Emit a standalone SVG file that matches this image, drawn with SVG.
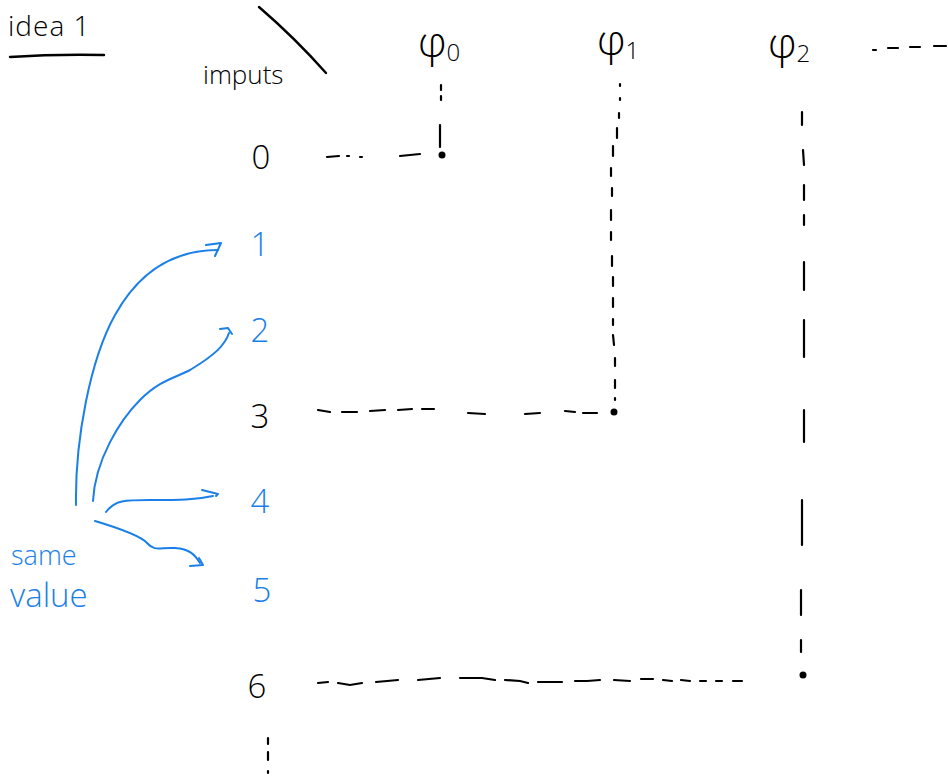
<svg xmlns="http://www.w3.org/2000/svg" width="948" height="778" viewBox="0 0 948 778">
<style>
text{font-family:"Open Sans","Liberation Sans",sans-serif;fill:#000}
.num{font-size:33px;text-anchor:middle;font-weight:300}
.blue{fill:#1a7fe8}
.phi{font-size:42px;font-weight:300}
.sub{font-size:24px}
.ln{stroke:#000;stroke-width:2.4;fill:none;stroke-linecap:round}
.dsh{stroke:#000;stroke-width:2.2;fill:none;stroke-linecap:round}
.arr{stroke:#1a7fe8;stroke-width:2;fill:none;stroke-linecap:round;stroke-linejoin:round}
.dot{fill:#000}
</style>
<rect width="948" height="778" fill="#fff"/>
<g id="title">
<text x="8" y="36" font-size="28" font-weight="300" letter-spacing="1">idea  1</text>
<path class="ln" d="M10 57 Q55 54 104 55" stroke-width="2"/>
</g>
<g id="header">
<path class="ln" d="M259 7 Q295 38 326 73"/>
<text x="203" y="84" font-size="26" font-weight="300">imputs</text>
</g>
<g id="phi0"><text x="418" y="57" class="phi">φ<tspan class="sub" dy="4">0</tspan></text></g>
<g id="phi1"><text x="597" y="55" class="phi">φ<tspan class="sub" dy="4">1</tspan></text></g>
<g id="phi2"><text x="768" y="58" class="phi">φ<tspan class="sub" dy="4">2</tspan></text></g>
<g id="phi-more"><path class="dsh" d="M873 50 L876 50 M888 48 L898 48 M910 47 L920 47 M934 46 L946 46"/></g>
<g id="in0"><text x="261" y="169" class="num">0</text></g>
<g id="in1"><text x="260" y="256" class="num blue">1</text></g>
<g id="in2"><text x="260" y="342" class="num blue">2</text></g>
<g id="in3"><text x="260" y="428" class="num">3</text></g>
<g id="in4"><text x="260" y="513" class="num blue">4</text></g>
<g id="in5"><text x="262" y="602" class="num blue">5</text></g>
<g id="in6"><text x="257" y="698" class="num">6</text></g>
<g id="more"><path class="dsh" d="M268 738 L268 744 M268 752 L268 760 M268 771 L268 773"/></g>
<g id="note">
<text x="11" y="565" font-size="27" class="blue" font-weight="300">same</text>
<text x="10" y="607" font-size="33" class="blue" font-weight="300">value</text>
</g>
<g id="connectors">
<path class="dsh" d="M327 157 L339 156 M347 156 L349 156 M360 157 L362 157 M400 156 L420 154"/>
<path class="dsh" d="M441 85 L441 90 M441 96 L441 100 M440 125 L440 147"/>
<circle class="dot" cx="442" cy="155" r="3.5"/>
<path class="dsh" d="M620 84 L620 86 M620 98 L620 100 M619 113 L619 118 M617 128 L617 138 M613 146 L613 156 M611 168 L611 176 M612 188 L612 196 M611 210 L611 220 M611 232 L611 240 M612 256 L612 266 M613 277 L613 286 M613 298 L613 307 M613 319 L613 325 M613 335 L614 345 M615 358 L615 366 M615 380 L615 388 M615 398 L615 400"/>
<circle class="dot" cx="614" cy="412" r="3.5"/>
<path class="dsh" d="M318 410 L330 412 M342 412 L357 412 M370 411 L385 410 M398 410 L412 409 M422 409 L434 409 M468 413 L485 414 M525 414 L540 413 M565 411 L575 412 M583 413 L597 413"/>
<path class="dsh" d="M802 112 L802 125 M803 150 L804 165 M804 185 L804 200 M804 215 L804 225 M804 262 L804 290 M804 320 L804 357 M804 410 L804 442 M802 500 L802 545 M801 590 L801 615 M801 640 L801 652"/>
<circle class="dot" cx="803" cy="675" r="3.5"/>
<path class="dsh" d="M318 683 L328 682 M338 683 L350 685 L362 683 M376 682 L398 680 M418 680 L440 678 M460 678 L482 678 L495 680 M505 680 L520 681 L528 683 M538 682 L562 682 M575 681 L587 681 L600 680 M614 680 L630 681 M641 679 L653 679 M663 680 L672 681 M681 680 L690 681 M700 681 L706 681 M716 681 L722 681 M733 681 L742 681"/>
<path class="arr" d="M76 505 C75 440 90 360 115 315 C140 270 175 250 218 250"/>
<path class="arr" d="M206 245 L221 243 L215 256"/>
<path class="arr" d="M93 501 C95 460 120 420 140 400 C160 380 175 378 190 370 C215 355 225 345 229 333"/>
<path class="arr" d="M220 329 L228 328 L232 334"/>
<path class="arr" d="M106 512 C115 500 125 500 150 500 C180 500 195 500 213 496"/>
<path class="arr" d="M202 490 L218 494 L216 496"/>
<path class="arr" d="M95 521 C115 527 140 535 147 543 C155 552 160 547 175 548 C190 549 195 555 200 563"/>
<path class="arr" d="M190 566 L203 565 L199 558"/>
</g>
</svg>
